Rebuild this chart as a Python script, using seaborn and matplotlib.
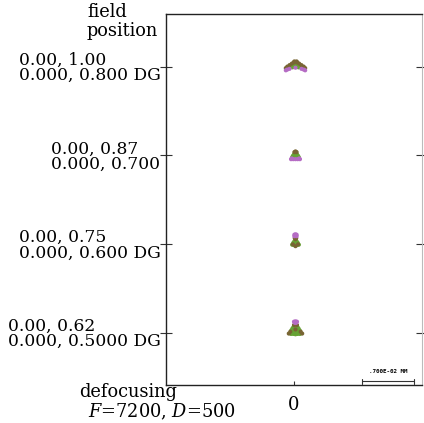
import numpy as np
import pandas as pd
import seaborn as sns
import matplotlib
import matplotlib.pyplot as plt

matplotlib.use('Agg')

# field rows (y in micrometres, top to bottom)
field_labels = [
    "0.00, 1.00\n0.000, 0.800 DG",
    "0.00, 0.87\n0.000, 0.700",
    "0.00, 0.75\n0.000, 0.600 DG",
    "0.00, 0.62\n0.000, 0.5000 DG",
]
row_y = [36, 24, 12, 0]
spot_cx = [0.2, 0.2, 0.2, 0.2]
spot_cy = [36.0, 24.0, 12.5, 0.7]

wave_colors = {"w1": "#66a334", "w2": "#b56cc4", "w3": "#786533"}
wave_order = {"w1": 0, "w3": 1, "w2": 2}

# spot 1 (bow tie)
f1_x = [0, -0.25, 0.25, -0.5, 0.5, -0.8, 0.8, -1.1, 1.1, -1.3, 1.3, -0.15, 0.15,
        -0.3, 0.3, 0, -0.6, 0.6, -0.9, 0.9, -0.4, 0.4, 0,
        -1.1, 1.1, -0.8, 0.8, 0, -1.3, 1.3]
f1_y = [0.6, 0.55, 0.55, 0.4, 0.4, 0.2, 0.2, 0.0, 0.0, -0.2, -0.2, 0.7, 0.7,
        0.2, 0.2, 0.3, 0.05, 0.05, -0.15, -0.15, -0.1, -0.1, 0.0,
        -0.4, -0.4, -0.3, -0.3, -0.15, -0.5, -0.5]
f1_w = ["w3"] * 13 + ["w1"] * 10 + ["w2"] * 7

# spot 2 (triangle)
f2_x = [0, -0.15, 0.15,
        0, -0.2, 0.2, -0.35, 0.35, 0, -0.15, 0.15, -0.45, 0.45, 0,
        -0.6, 0.6, -0.3, 0.3, 0, -0.5, 0.5]
f2_y = [0.55, 0.45, 0.45,
        0.3, 0.15, 0.15, -0.05, -0.05, 0.05, -0.2, -0.2, -0.25, -0.25, -0.3,
        -0.5, -0.5, -0.5, -0.5, -0.5, -0.4, -0.4]
f2_w = ["w3"] * 3 + ["w1"] * 11 + ["w2"] * 7

# spot 3 (column)
f3_x = [0, -0.15, 0.15, 0, -0.15, 0.15,
        -0.1, 0.1, 0, -0.35, 0.35, 0,
        0, 0, -0.15, 0.15, -0.3, 0.3, -0.45, 0.45, 0, -0.2, 0.2]
f3_y = [0.85, 0.8, 0.8, 0.65, 0.6, 0.6,
        0.35, 0.35, 0.2, -0.5, -0.5, -0.75,
        0.3, 0.05, -0.1, -0.1, -0.3, -0.3, -0.55, -0.55, -0.45, -0.6, -0.6]
f3_w = ["w2"] * 6 + ["w3"] * 6 + ["w1"] * 11

# spot 4 (bell)
f4_x = [0, -0.2, 0.2, -0.1, 0.1,
        0, -0.2, 0.2, -0.7, 0.7, -0.9, 0.9, 0,
        0, -0.25, 0.25, -0.4, 0.4, -0.55, 0.55, 0, -0.3, 0.3, -0.6, 0.6, 0, -0.3, 0.3]
f4_y = [0.9, 0.85, 0.85, 0.7, 0.7,
        0.5, 0.4, 0.4, -0.5, -0.5, -0.75, -0.75, -0.2,
        0.3, 0.15, 0.15, -0.05, -0.05, -0.3, -0.3, -0.5, -0.5, -0.5, -0.8, -0.8, -0.85, -0.8, -0.8]
f4_w = ["w2"] * 5 + ["w3"] * 8 + ["w1"] * 15

spots = [(f1_x, f1_y, f1_w), (f2_x, f2_y, f2_w), (f3_x, f3_y, f3_w), (f4_x, f4_y, f4_w)]

frames = []
for (sx, sy, sw), cx, cy in zip(spots, spot_cx, spot_cy):
    frames.append(pd.DataFrame({
        "x": np.array(sx) + cx,
        "y": np.array(sy) + cy,
        "wave": sw,
    }))
df = pd.concat(frames, ignore_index=True)
df = df.sort_values("wave", key=lambda s: s.map(wave_order), kind="stable")

sns.set_style("white")
plt.rcParams['font.family'] = ['DejaVu Serif']
plt.rcParams['mathtext.fontset'] = 'dejavuserif'
plt.rcParams['text.color'] = 'black'
plt.rcParams['xtick.color'] = 'black'
plt.rcParams['ytick.color'] = 'black'
plt.rcParams['xtick.labelcolor'] = 'black'
plt.rcParams['ytick.labelcolor'] = 'black'

fig = plt.figure(figsize=(4.24, 4.23), dpi=100)
ax = fig.add_axes([0.3915, 0.0898, 0.6038, 0.877])

sns.scatterplot(data=df, x="x", y="y", hue="wave", palette=wave_colors,
                s=9, linewidth=0, legend=False, ax=ax)

ax.set_xlim(-17.2, 17.2)
ax.set_ylim(-7.0, 43.1)
ax.set_xlabel("")
ax.set_ylabel("")

ax.set_yticks(row_y)
ax.set_yticklabels(field_labels, fontsize=12.3, linespacing=0.85)
for lab in ax.get_yticklabels():
    lab.set_multialignment('left')
ax.set_xticks([0])
ax.set_xticklabels(["0"], fontsize=13)

ax.tick_params(axis='y', left=True, right=True, direction='inout', length=8,
               width=0.8, color='#333333', pad=0)
ax.tick_params(axis='x', bottom=True, direction='in', length=3, width=0.8,
               color='#333333', pad=8)

for side in ['left', 'top', 'bottom']:
    ax.spines[side].set_color('#222222')
    ax.spines[side].set_linewidth(1.0)
ax.spines['right'].set_color('#bbbbbb')
ax.spines['right'].set_linewidth(0.8)

# scale bar
ax.plot([0.765, 0.97], [0.01, 0.01], transform=ax.transAxes, color='#333333', lw=0.8)
for xe in [0.765, 0.97]:
    ax.plot([xe, xe], [0.003, 0.017], transform=ax.transAxes, color='#333333', lw=0.8)
ax.text(0.8675, 0.03, ".700E-02 MM", transform=ax.transAxes, ha='center',
        va='bottom', fontsize=4.2, fontweight='bold', family='DejaVu Sans Mono')

fig.text(87 / 424, 1 - 3 / 423, "field\nposition", ha='left', va='top',
         fontsize=12.8, linespacing=1.05)
fig.text(79 / 424, 1 - 383 / 423, "defocusing", ha='left', va='top', fontsize=12.8)
fig.text(88 / 424, 1 - 402 / 423, "$F$=7200, $D$=500", ha='left', va='top', fontsize=12.8)

fig.savefig("out.png", dpi=100)
